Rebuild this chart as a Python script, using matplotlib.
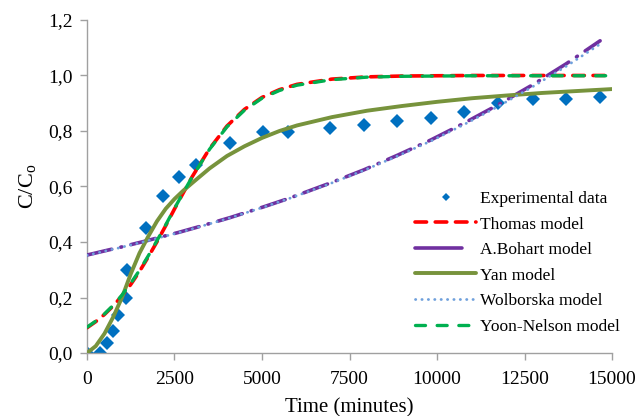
import matplotlib
matplotlib.use("Agg")
import matplotlib.pyplot as plt
from matplotlib.lines import Line2D

plt.rcParams['font.family'] = ['Liberation Serif', 'DejaVu Serif']
plt.rcParams['mathtext.fontset'] = 'custom'
plt.rcParams['mathtext.rm'] = 'Liberation Serif'

# ---- data ----
exp_time = [0, 370, 570, 740, 890, 1110, 1140, 1690, 2170, 2630, 3110, 4090,
            5030, 5740, 6940, 7910, 8860, 9830, 10770, 11740, 12740, 13690, 14660]
exp_c = [0.0, 0.0, 0.036, 0.08, 0.137, 0.20, 0.30, 0.45, 0.566, 0.634, 0.677, 0.757,
         0.797, 0.797, 0.811, 0.822, 0.836, 0.847, 0.869, 0.90, 0.915, 0.915, 0.922]

model_time = [0, 250, 500, 750, 1000, 1250, 1500, 1750, 2000, 2250, 2500, 2750, 3000,
              3500, 4000, 4500, 5000, 5500, 6000, 7000, 8000, 9000, 10000, 11000,
              12000, 13000, 14000, 15000]
thomas_c = [0.091, 0.113, 0.139, 0.170, 0.206, 0.247, 0.294, 0.346, 0.401, 0.459, 0.519,
            0.577, 0.634, 0.736, 0.818, 0.878, 0.921, 0.949, 0.968, 0.987, 0.995, 0.998,
            0.999, 1.0, 1.0, 1.0, 1.0, 1.0]
yoon_c = [0.093, 0.115, 0.141, 0.172, 0.209, 0.251, 0.298, 0.350, 0.405, 0.462, 0.521,
          0.578, 0.633, 0.734, 0.815, 0.875, 0.918, 0.946, 0.965, 0.985, 0.994, 0.997,
          0.998, 0.999, 0.999, 0.999, 0.999, 0.999]
yan_c = [0.0, 0.025, 0.07, 0.13, 0.20, 0.285, 0.36, 0.42, 0.475, 0.52, 0.555, 0.585, 0.612,
         0.665, 0.71, 0.745, 0.775, 0.80, 0.82, 0.85, 0.873, 0.89, 0.905, 0.918,
         0.928, 0.937, 0.944, 0.951]

bohart_time = exp_time
bohart_c = [0.353, 0.364, 0.370, 0.375, 0.379, 0.386, 0.387, 0.404, 0.420, 0.435, 0.452, 0.488,
            0.526, 0.556, 0.612, 0.660, 0.712, 0.768, 0.828, 0.894, 0.967, 1.042, 1.125]
wolborska_c = [0.352, 0.363, 0.369, 0.374, 0.378, 0.385, 0.386, 0.403, 0.419, 0.434, 0.451, 0.487,
               0.525, 0.555, 0.610, 0.658, 0.709, 0.764, 0.823, 0.888, 0.960, 1.033, 1.113]

xticks = [0, 2500, 5000, 7500, 10000, 12500, 15000]
xticklabels = ['0', '2500', '5000', '7500', '10000', '12500', '15000']
yticks = [0.0, 0.2, 0.4, 0.6, 0.8, 1.0, 1.2]
yticklabels = ['0,0', '0,2', '0,4', '0,6', '0,8', '1,0', '1,2']

labels = ['Experimental data', 'Thomas model', 'A.Bohart model', 'Yan model',
          'Wolborska model', 'Yoon-Nelson model']

# ---- figure ----
fig = plt.figure(figsize=(6.43, 4.16), dpi=100)
ax = fig.add_axes([0.1353, 0.1514, 0.8165, 0.8006])

ax.plot(exp_time, exp_c, linestyle='none', marker='D', ms=7.5, color='#0070C0',
        markeredgewidth=0, label=labels[0], zorder=2)
ax.plot(model_time, thomas_c, color='#FF0000', lw=2.6, linestyle=(0, (3.2, 2.4)),
        dash_capstyle='round', label=labels[1], zorder=3)
ax.plot(bohart_time, bohart_c, color='#7030A0', lw=2.6, linestyle=(0, (7, 2.6, 0.3, 2.6)),
        dash_capstyle='round', label=labels[2], zorder=3)
ax.plot(model_time, yan_c, color='#77933C', lw=2.8, linestyle='-', solid_capstyle='round',
        solid_joinstyle='round', label=labels[3], zorder=3)
ax.plot(bohart_time, wolborska_c, color='#6FA0DC', lw=2.0, linestyle=(0, (0.1, 2.2)),
        dash_capstyle='round', label=labels[4], zorder=4)
ax.plot(model_time, yoon_c, color='#00B050', lw=2.4, linestyle=(0, (3.0, 3.5)),
        dash_capstyle='round', label=labels[5], zorder=4)

ax.set_xlim(0, 15000)
ax.set_ylim(0, 1.2)
ax.set_xticks(xticks)
ax.set_xticklabels(xticklabels)
ax.set_yticks(yticks)
ax.set_yticklabels(yticklabels)

for s in ['top', 'right']:
    ax.spines[s].set_visible(False)
for s in ['left', 'bottom']:
    ax.spines[s].set_color('#A0A0A0')
    ax.spines[s].set_linewidth(1.0)
ax.tick_params(axis='both', direction='out', length=5, width=1.0, color='#A0A0A0',
               labelsize=14, labelcolor='black')
ax.tick_params(axis='x', pad=8)
ax.tick_params(axis='y', pad=5)

ax.set_xlabel('Time (minutes)', fontsize=15, labelpad=7)
ax.set_ylabel('C/C$_\\mathregular{o}$', fontsize=16, labelpad=7)

handles = [
    Line2D([], [], linestyle='none', marker='D', ms=4.5, color='#0070C0', markeredgewidth=0),
    Line2D([], [], color='#FF0000', lw=2.6, linestyle=(0, (3.2, 2.4)), dash_capstyle='round'),
    Line2D([], [], color='#7030A0', lw=2.6, linestyle=(0, (13, 5, 0.3, 5)), dash_capstyle='round'),
    Line2D([], [], color='#77933C', lw=2.8, solid_capstyle='round'),
    Line2D([], [], color='#6FA0DC', lw=2.0, linestyle=(0, (0.1, 2.2)), dash_capstyle='round'),
    Line2D([], [], color='#00B050', lw=2.4, linestyle=(0, (3.0, 3.5)), dash_capstyle='round'),
]
leg = ax.legend(handles, labels, loc='upper left', bbox_to_anchor=(0.625, 0.487),
                frameon=False, fontsize=12.5, handlelength=3.5, handletextpad=0.25,
                labelspacing=0.54, borderaxespad=0, borderpad=0)

fig.savefig('out.png', dpi=100)
